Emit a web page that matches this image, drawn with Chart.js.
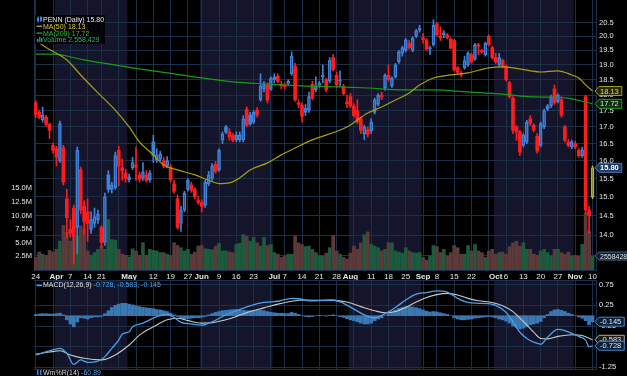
<!DOCTYPE html>
<html>
<head>
<meta charset="utf-8">
<script src="https://cdn.jsdelivr.net/npm/chart.js@4.4.1/dist/chart.umd.min.js"></script>
<style>
html,body{margin:0;padding:0;background:#000;}
body{width:627px;height:376px;position:relative;overflow:hidden;}
canvas{position:absolute;left:0;display:block;}
#main{top:0;}
#macd{top:278px;}
</style>
</head>
<body>
<canvas id="main" width="627" height="282"></canvas>
<canvas id="macd" width="627" height="98"></canvas>
<script>
// ---------- categories ----------
const firstDay = '2014-03-24', lastDay = '2014-11-10';
const holidays = ['2014-04-18','2014-05-26','2014-07-04','2014-09-01'];
const tickDates = ['2014-03-24','2014-04-01','2014-04-07','2014-04-14','2014-04-21','2014-05-01','2014-05-12','2014-05-19','2014-05-27','2014-06-02','2014-06-09','2014-06-16','2014-06-23','2014-07-01','2014-07-07','2014-07-14','2014-07-21','2014-07-28','2014-08-01','2014-08-11','2014-08-18','2014-08-25','2014-09-02','2014-09-08','2014-09-15','2014-09-22','2014-10-01','2014-10-06','2014-10-13','2014-10-20','2014-10-27','2014-11-03','2014-11-10'];
const tickLabels = ['24','Apr','7','14','21','May','12','19','27','Jun','9','16','23','Jul','7','14','21','28','Aug','11','18','25','Sep','8','15','22','Oct','6','13','20','27','Nov','10'];
const monthNames = ['Apr','May','Jun','Jul','Aug','Sep','Oct','Nov'];
const gridDates = ['2014-03-24','2014-03-31','2014-04-07','2014-04-14','2014-04-21','2014-04-28','2014-05-05','2014-05-12','2014-05-19','2014-05-27','2014-06-02','2014-06-09','2014-06-16','2014-06-23','2014-06-30','2014-07-07','2014-07-14','2014-07-21','2014-07-28','2014-08-04','2014-08-11','2014-08-18','2014-08-25','2014-09-02','2014-09-08','2014-09-15','2014-09-22','2014-09-29','2014-10-06','2014-10-13','2014-10-20','2014-10-27','2014-11-03','2014-11-10'];
const shadedMonths = ['2014-04','2014-06','2014-08','2014-10'];
const priceTicks = [13.5,14.0,14.5,15.0,15.5,16.0,16.5,17.0,17.5,18.0,18.5,19.0,19.5,20.0,20.5];
const volumeTicks = [2.5,5.0,7.5,10.0,12.5,15.0];
const macdTicks = [0.75,0.5,0.25,0,-0.25,-0.5,-0.75,-1.0,-1.25];

// ---------- series ----------
const prevClose = 17.9;
const open = [
17.75,17.45,17.22,17.30,17.08,16.45,16.35,16.00,16.38,14.95,
14.15,14.70,14.20,15.75,14.75,14.60,14.15,14.30,14.40,14.20,
13.82,15.60,15.20,15.25,16.30,15.80,15.65,15.47,15.80,15.88,
15.60,15.50,15.60,15.46,16.55,16.02,16.05,16.00,15.85,15.83,
15.35,14.95,14.30,14.65,15.20,15.32,15.20,14.90,14.85,14.78,
15.35,15.50,15.90,15.75,16.60,17.00,16.85,16.75,16.60,16.62,
16.60,17.55,17.37,17.15,17.52,17.85,18.20,18.32,18.20,18.50,
18.62,18.35,18.33,18.38,18.70,18.95,17.75,17.68,17.45,17.52,
18.35,18.17,18.32,18.60,18.50,18.45,19.25,18.65,18.45,18.27,
17.78,17.95,17.65,17.50,17.25,16.78,16.92,16.88,17.45,17.70,
18.00,18.22,18.65,18.30,18.60,19.10,19.40,19.50,19.75,19.50,
20.00,20.22,19.95,19.87,19.55,19.70,20.45,20.00,20.05,20.05,
19.90,19.85,18.90,18.65,18.90,19.00,19.35,19.20,19.70,19.50,
19.35,20.00,19.60,19.25,19.00,19.15,18.95,18.40,17.90,17.00,
16.85,16.45,16.55,17.25,17.05,16.72,16.45,17.00,17.65,17.65,
18.20,17.80,17.85,17.00,16.55,16.40,16.50,16.30,16.15,17.95,
14.65,15.00];
const high = [
17.82,17.52,17.62,17.36,17.12,16.52,16.42,17.18,16.45,15.20,
14.40,14.78,16.40,15.82,14.90,14.95,14.60,14.70,14.65,14.25,
15.10,15.72,15.40,16.25,16.42,16.05,15.75,15.62,16.10,16.40,
15.68,15.95,15.72,15.72,16.75,16.35,16.28,16.10,16.12,15.90,
15.45,15.05,14.75,15.15,15.50,15.40,15.25,15.00,14.92,15.45,
15.70,15.92,15.98,16.35,16.85,17.05,16.95,16.80,16.85,16.85,
17.35,17.62,17.45,17.50,17.60,18.70,18.45,18.40,18.60,18.70,
18.70,18.45,18.40,18.50,19.45,19.05,17.85,17.75,17.70,18.10,
18.45,18.60,18.45,19.00,18.55,19.25,19.35,18.75,18.80,18.35,
18.00,18.05,17.72,17.85,17.30,17.05,17.00,17.25,17.90,18.05,
18.10,18.70,19.00,18.60,19.05,19.50,19.65,19.92,19.85,19.98,
20.25,20.40,20.10,19.92,19.65,20.60,20.50,20.35,20.20,20.10,
19.95,19.90,18.95,18.80,19.30,19.45,19.40,19.75,19.75,19.55,
19.80,20.05,19.65,19.40,19.40,19.20,19.00,18.45,17.95,17.05,
16.90,16.80,17.20,17.35,17.10,16.80,17.15,17.55,17.70,18.00,
18.33,18.05,17.95,17.05,16.62,16.60,16.58,16.35,16.40,18.00,
14.75,15.85];
const low = [
17.28,17.25,17.15,17.02,16.65,16.22,15.85,15.95,15.32,13.95,
13.95,13.30,13.55,14.55,14.02,13.85,14.05,14.20,14.30,13.70,
13.75,15.12,15.10,15.20,15.30,15.45,15.40,15.40,15.75,15.45,
15.40,15.45,15.40,15.40,15.95,15.95,16.00,15.80,15.80,15.40,
15.10,14.15,14.10,14.60,15.15,15.12,14.95,14.80,14.60,14.72,
15.30,15.45,15.65,15.70,16.50,16.80,16.60,16.55,16.55,16.55,
16.55,17.00,17.05,17.10,17.30,17.80,18.10,17.75,18.15,18.40,
18.40,18.20,18.20,18.30,18.65,17.80,17.60,17.15,17.35,17.45,
17.85,18.10,18.25,18.40,18.10,18.40,18.80,18.25,18.30,18.00,
17.60,17.60,17.30,17.10,16.80,16.62,16.70,16.80,17.40,17.65,
17.85,18.15,18.45,18.25,18.55,19.05,19.30,19.45,19.55,19.45,
19.95,20.15,19.75,19.50,19.35,19.65,20.00,19.85,19.95,19.90,
19.55,18.80,18.70,18.60,18.85,18.95,19.05,19.15,19.35,19.40,
19.30,19.65,19.20,19.05,18.95,18.90,18.45,17.90,16.80,16.60,
16.15,16.40,16.50,17.05,16.85,16.22,16.40,16.95,17.50,17.60,
17.70,17.75,17.30,16.55,16.40,16.35,16.35,16.10,16.10,14.55,
14.05,14.95];
const close = [
17.38,17.30,17.36,17.08,16.90,16.30,16.10,17.10,15.40,14.45,
14.05,13.98,16.30,14.65,14.35,14.30,14.40,14.48,14.55,13.82,
15.00,15.20,15.32,16.15,15.85,15.72,15.50,15.55,15.95,15.82,
15.48,15.68,15.45,15.66,16.15,16.17,16.20,15.85,16.00,15.46,
15.15,14.20,14.65,15.10,15.45,15.18,15.00,14.85,14.75,15.40,
15.60,15.85,15.70,16.30,16.78,16.85,16.70,16.60,16.75,16.76,
17.25,17.05,17.10,17.45,17.37,18.30,18.35,17.84,18.55,18.60,
18.45,18.30,18.28,18.45,19.30,17.85,17.70,17.33,17.58,17.95,
17.90,18.30,18.38,18.65,18.17,19.15,18.85,18.33,18.50,18.05,
17.72,17.65,17.35,17.15,16.90,17.00,16.78,17.15,17.85,18.00,
17.95,18.65,18.50,18.55,19.00,19.45,19.60,19.87,19.60,19.93,
20.20,20.30,19.88,19.55,19.60,20.40,20.05,19.95,20.12,19.95,
19.58,18.83,18.75,18.72,19.15,19.40,19.10,19.70,19.65,19.45,
19.75,19.70,19.25,19.10,19.25,18.95,18.50,17.95,16.90,16.85,
16.25,16.75,17.15,17.12,16.90,16.28,17.10,17.50,17.55,17.95,
17.75,18.00,17.37,16.60,16.45,16.55,16.40,16.15,16.32,14.65,
14.50,15.80];
// volume, millions of shares
const volume = [
2.3,3.3,2.9,2.7,3.6,3.3,3.8,5.3,8.2,6.9,
5.3,6.2,6.2,8.1,7.5,3.5,2.7,3.2,3.8,4.4,
3.8,9.3,5.6,5.5,3.8,2.9,2.7,2.4,3.9,3.5,
2.7,5.0,2.7,3.8,3.6,3.5,3.2,3.2,2.9,2.7,
5.0,4.5,4.1,3.5,3.8,2.9,3.3,4.4,4.5,3.9,
3.8,3.7,4.4,4.9,3.5,3.5,3.3,3.2,4.7,4.9,
6.5,6.2,5.3,6.0,5.0,4.4,6.0,4.5,4.7,3.2,
2.9,2.3,2.6,2.9,2.9,6.2,5.0,4.7,4.3,4.4,
3.8,3.2,2.6,2.6,3.1,4.1,6.3,3.5,2.9,2.3,
2.0,3.1,4.4,3.8,5.0,6.5,7.0,4.7,4.4,4.1,
3.5,3.8,5.0,5.0,3.5,3.3,3.1,4.1,3.5,3.2,
3.1,3.2,2.3,1.8,2.6,4.5,4.3,3.2,3.8,2.6,
3.2,4.5,4.1,2.9,2.9,4.5,3.5,4.7,3.5,3.2,
2.3,3.5,3.8,2.9,3.2,3.3,2.9,4.3,5.0,5.3,
4.4,5.0,3.8,3.8,2.9,2.7,3.5,3.8,3.2,2.6,
3.8,3.8,3.2,2.9,3.3,2.6,2.7,2.5,4.7,10.5,
7.2,2.558429];
const ma50Day = [0,3,9,13,18,23,27,30,34,37,41,46,50,53,56,59,62,67,71,75,80,90,96,100,104,108,111,115,120,125,131,135,138,143,146,151,155,157,159,161];
const ma50 = [19.85,19.6,19.17,18.66,18.07,17.52,17.0,16.55,16.17,15.88,15.74,15.6,15.45,15.36,15.38,15.52,15.74,15.94,16.17,16.37,16.61,17.0,17.43,17.62,17.84,18.07,18.33,18.56,18.66,18.73,18.9,18.93,18.9,18.8,18.76,18.8,18.66,18.56,18.33,18.13];
const ma200Day = [0,5,14,28,38,48,57,67,77,86,96,106,115,125,135,144,151,155,161];
const ma200 = [19.37,19.37,19.17,18.9,18.73,18.56,18.43,18.36,18.3,18.27,18.23,18.17,18.17,18.1,18.03,17.94,17.93,17.88,17.72];
const macdDay = [0,4,7,9,11,13,15,18,20,22,24,25,27,28,31,34,36,38,40,42,45,48,51,54,58,62,66,70,74,76,79,83,86,89,92,95,98,101,104,107,110,113,116,119,122,125,128,131,133,136,138,140,142,144,146,148,151,153,155,157,159,160,161];
const macd = [-0.95,-0.85,-0.79,-0.91,-1.18,-1.07,-1.13,-1.10,-0.99,-0.79,-0.59,-0.45,-0.39,-0.27,-0.18,-0.06,0.0,0.03,-0.04,-0.16,-0.2,-0.23,-0.15,-0.02,0.12,0.24,0.32,0.35,0.42,0.41,0.36,0.37,0.38,0.3,0.16,0.02,-0.05,0.05,0.2,0.38,0.52,0.56,0.6,0.57,0.42,0.32,0.3,0.29,0.25,0.08,-0.15,-0.4,-0.55,-0.64,-0.69,-0.52,-0.33,-0.36,-0.43,-0.5,-0.59,-0.75,-0.728];
const signalDay = [0,4,7,10,14,19,23,27,30,34,38,41,44,48,51,55,58,62,66,70,74,78,82,86,90,94,98,101,104,107,110,113,116,119,122,125,128,132,135,138,140,142,144,146,148,151,155,158,161];
const signal = [-0.93,-0.88,-0.85,-0.95,-1.03,-1.07,-0.95,-0.71,-0.47,-0.27,-0.1,-0.06,-0.12,-0.18,-0.17,-0.1,-0.02,0.1,0.19,0.28,0.35,0.38,0.37,0.37,0.33,0.22,0.12,0.07,0.1,0.2,0.33,0.44,0.51,0.54,0.5,0.42,0.36,0.32,0.24,0.1,-0.06,-0.22,-0.4,-0.55,-0.56,-0.5,-0.46,-0.48,-0.583];
const histogram = [
0.03,0.04,0.05,0.05,0.04,0.04,0.05,0.06,0.02,
-0.10,-0.20,-0.27,-0.15,
-0.05,-0.06,-0.08,-0.05,-0.03,-0.03,-0.02,
0.05,0.12,0.20,0.25,0.28,
0.30,0.30,0.28,0.26,0.24,0.22,
0.20,0.19,0.18,0.17,0.15,0.14,0.12,0.10,
0.06,0.02,-0.02,
-0.06,-0.08,-0.07,-0.06,-0.05,-0.05,-0.04,-0.02,
0.02,0.05,0.08,0.10,0.12,0.13,0.14,0.15,0.15,0.14,0.13,0.12,
0.12,0.12,0.13,0.14,0.12,0.10,0.08,0.07,0.06,0.06,0.05,0.05,0.08,0.06,
0.03,0.00,-0.02,-0.03,-0.02,0.00,0.01,0.00,-0.01,0.01,0.02,0.00,-0.02,
-0.04,-0.07,-0.10,-0.12,-0.15,-0.18,-0.20,-0.20,-0.18,-0.12,-0.08,-0.05,
0.00,0.05,0.10,0.14,0.18,0.20,0.22,0.22,0.21,0.19,0.17,0.14,
0.11,0.09,0.10,0.09,0.07,0.05,0.03,0.00,-0.05,-0.08,-0.10,-0.10,
-0.09,-0.08,-0.06,-0.05,-0.04,-0.03,-0.02,-0.03,
-0.05,-0.08,-0.10,-0.13,-0.18,-0.25,-0.28,-0.32,-0.30,-0.27,-0.22,-0.20,-0.18,-0.14,
-0.05,0.03,0.10,0.14,0.15,0.13,0.10,0.06,0.03,0.00,-0.03,-0.06,
-0.12,-0.22,-0.145];
const legendTexts = {
  price: 'PENN (Daily) 15.80', ma50: 'MA(50) 18.13', ma200: 'MA(200) 17.72',
  volume: 'Volume 2,558,429', volumeTag: '2558428',
  macdName: 'MACD(12,26,9)', macdVals: ' -0.728, -0.583, -0.145',
  willName: 'Wm%R(14)', willVal: ' -60.89'
};

// ---------- helpers ----------
const dates = (function(){
  const out = []; const d = new Date(firstDay + 'T00:00:00Z'); const end = new Date(lastDay + 'T00:00:00Z');
  while (d <= end) { const w = d.getUTCDay(); const s = d.toISOString().slice(0,10);
    if (w !== 0 && w !== 6 && !holidays.includes(s)) out.push(s);
    d.setUTCDate(d.getUTCDate() + 1); }
  return out;
})();
const N = dates.length;
const dIdx = s => dates.indexOf(s);
const tickIdx = tickDates.map(dIdx);
const gridIdx = new Set(gridDates.map(dIdx));
const labelMap = {}; tickIdx.forEach((v,k)=> labelMap[v] = tickLabels[k]);
const monthIdx = new Set(tickIdx.filter((v,k)=> monthNames.includes(tickLabels[k])));
const allTicks = Array.from(new Set([...tickIdx, ...gridIdx])).sort((a,b)=>a-b);
const bands = shadedMonths.map(m => {
  const s = dates.findIndex(d => d.startsWith(m)); let e = N;
  for (let i = s; i < N; i++) if (!dates[i].startsWith(m)) { e = i; break; }
  return [s - 0.5, e - 0.5];
});

const FONT = '"Liberation Sans", Arial, sans-serif';
const GRID = '#1c2f49';
const BAND = '#14142b';
const RED = '#ff1c1c', BLUE = '#3f82da', LASTC = '#b8b82a';
const VUP = '#1d5b3f', VDN = '#5d3a3a';
const MA50C = '#a89e14', MA200C = '#169c16';
const XMIN = -0.5, XMAX = 162;

const up = i => close[i] >= (i ? close[i-1] : prevClose);
const cColor = i => i === N - 1 ? LASTC : (up(i) ? BLUE : RED);
const filled = i => close[i] < open[i];

const bandPlugin = {
  id: 'bands',
  beforeDraw(chart) {
    const {ctx, chartArea: a, scales: {x}} = chart;
    ctx.save(); ctx.fillStyle = BAND;
    for (const [s, e] of bands) {
      const x0 = Math.max(a.left, x.getPixelForValue(s));
      const x1 = Math.min(a.right, x.getPixelForValue(e));
      ctx.fillRect(x0, a.top, x1 - x0, a.bottom - a.top);
    }
    ctx.restore();
  }
};

function tag(ctx, x, y, text, o) {
  ctx.font = o.font;
  const w = ctx.measureText(text).width + 8, h = o.h || 9;
  ctx.beginPath();
  ctx.moveTo(x, y); ctx.lineTo(x + 4, y - h/2); ctx.lineTo(x + w, y - h/2);
  ctx.lineTo(x + w, y + h/2); ctx.lineTo(x + 4, y + h/2); ctx.closePath();
  ctx.fillStyle = o.fill; ctx.fill();
  ctx.strokeStyle = o.border; ctx.lineWidth = 1; ctx.stroke();
  ctx.fillStyle = o.color; ctx.textBaseline = 'middle'; ctx.textAlign = 'left';
  ctx.fillText(text, x + 5, y + 0.5);
}

const mainOverlay = {
  id: 'mainOverlay',
  afterDraw(chart) {
    const ctx = chart.ctx, a = chart.chartArea, y = chart.scales.y, yv = chart.scales.yv;
    ctx.save();
    // legend
    ctx.fillStyle = 'rgba(0,0,0,0.82)';
    ctx.fillRect(35, 15, 70, 29);
    ctx.font = '7px ' + FONT; ctx.textBaseline = 'middle'; ctx.textAlign = 'left';
    const rows = [
      [legendTexts.price, '#e6e6e6'],
      [legendTexts.ma50, '#d8ca22'],
      [legendTexts.ma200, '#2cc22c'],
      [legendTexts.volume, '#2db46e']
    ];
    rows.forEach((r, k) => {
      const yy = 19.5 + k * 6.8;
      if (k === 0) {
        ctx.fillStyle = BLUE; ctx.fillRect(37, yy - 2, 2, 4); ctx.fillRect(40, yy - 3, 2, 5);
        ctx.fillRect(38, yy - 3, 0.8, 6);
      } else if (k < 3) {
        ctx.strokeStyle = k === 1 ? MA50C : MA200C; ctx.lineWidth = 1.5;
        ctx.beginPath(); ctx.moveTo(36.5, yy); ctx.lineTo(42, yy); ctx.stroke();
      } else {
        ctx.fillStyle = '#2a8a5a'; ctx.fillRect(37, yy - 1, 1.5, 3); ctx.fillRect(39, yy - 3, 1.5, 5); ctx.fillRect(41, yy - 2, 1.5, 4);
      }
      ctx.fillStyle = r[1]; ctx.fillText(r[0], 43, yy + 0.5);
    });
    // right value tags
    const tx = a.right - 1;
    tag(ctx, tx, yv.getPixelForValue(volume[N-1]), legendTexts.volumeTag, {font: '7px ' + FONT, fill: '#0d1b2c', border: '#46668e', color: '#e6e6e6', h: 8});
    tag(ctx, tx, y.getPixelForValue(ma50[ma50.length-1]), ma50[ma50.length-1].toFixed(2), {font: '7.5px ' + FONT, fill: '#26260a', border: '#a8a020', color: '#e8dc60'});
    tag(ctx, tx, y.getPixelForValue(ma200[ma200.length-1]), ma200[ma200.length-1].toFixed(2), {font: '7.5px ' + FONT, fill: '#0b2a0b', border: '#22a022', color: '#d0f0d0'});
    tag(ctx, tx, y.getPixelForValue(close[N-1]), close[N-1].toFixed(2), {font: 'bold 7.5px ' + FONT, fill: '#1d3a62', border: '#4a7cba', color: '#ffffff'});
    ctx.restore();
  }
};

const macdOverlay = {
  id: 'macdOverlay',
  afterDraw(chart) {
    const ctx = chart.ctx, a = chart.chartArea, y = chart.scales.y;
    ctx.save();
    ctx.strokeStyle = GRID; ctx.lineWidth = 1;
    ctx.beginPath(); ctx.moveTo(a.left, a.top + 0.5); ctx.lineTo(a.right, a.top + 0.5); ctx.stroke();
    ctx.font = '7px ' + FONT; ctx.textBaseline = 'middle'; ctx.textAlign = 'left';
    // MACD legend
    ctx.strokeStyle = '#4aa3ea'; ctx.lineWidth = 1.5;
    ctx.beginPath(); ctx.moveTo(36.5, 7.5); ctx.lineTo(42, 7.5); ctx.stroke();
    ctx.fillStyle = '#e0e0e0'; ctx.fillText(legendTexts.macdName, 43, 7.5);
    const w1 = ctx.measureText(legendTexts.macdName).width;
    ctx.fillStyle = '#4aa3ea'; ctx.fillText(legendTexts.macdVals, 43 + w1, 7.5);
    // Williams %R legend (next panel, cut off)
    ctx.fillStyle = '#3f82da'; ctx.fillRect(37, 92, 1.5, 5); ctx.fillRect(40, 92, 1.5, 5);
    ctx.fillStyle = '#d8d8d8'; ctx.fillText(legendTexts.willName, 43, 95.5);
    const w2 = ctx.measureText(legendTexts.willName).width;
    ctx.fillStyle = '#4aa3ea'; ctx.fillText(legendTexts.willVal, 43 + w2, 95.5);
    // tags
    const tx = a.right - 1;
    tag(ctx, tx, y.getPixelForValue(histogram[N-1]), histogram[N-1].toFixed(3), {font: '7.5px ' + FONT, fill: '#0c2038', border: '#3f86c8', color: '#d6e8ff'});
    tag(ctx, tx, y.getPixelForValue(signal[signal.length-1]), signal[signal.length-1].toFixed(3), {font: '7.5px ' + FONT, fill: '#1e1e1e', border: '#a8a8a8', color: '#e6e6e6'});
    tag(ctx, tx, y.getPixelForValue(macd[macd.length-1]), macd[macd.length-1].toFixed(3), {font: '7.5px ' + FONT, fill: '#0c2038', border: '#3f86c8', color: '#d6e8ff'});
    ctx.restore();
  }
};

function noPad(s) { s.paddingTop = 0; s.paddingBottom = 0; s.paddingLeft = 0; s.paddingRight = 0; }
const xScaleBase = (showLabels, h) => ({
  type: 'linear', min: XMIN, max: XMAX, bounds: 'data', offset: false,
  afterBuildTicks: s => { s.ticks = allTicks.map(v => ({value: v})); },
  afterFit: s => { s.height = h; noPad(s); },
  grid: { offset: false, drawTicks: false, color: c => (c.tick && gridIdx.has(c.tick.value)) ? GRID : 'rgba(0,0,0,0)', lineWidth: 1 },
  border: { display: true, color: GRID },
  ticks: {
    display: showLabels, autoSkip: false, maxRotation: 0, minRotation: 0, padding: 2, color: '#e4e4e4',
    font: c => ({ family: FONT, size: 8, weight: (c.tick && monthIdx.has(c.tick.value)) ? 'bold' : 'normal' }),
    callback: v => labelMap[v] !== undefined ? labelMap[v] : ''
  }
});

Chart.defaults.font.family = FONT;
const idx = dates.map((d, i) => i);

new Chart(document.getElementById('main'), {
  type: 'bar',
  data: {
    datasets: [
      { label: 'Volume', yAxisID: 'yv', order: 10, barThickness: 3,
        data: idx.map(i => ({x: i, y: volume[i]})),
        backgroundColor: idx.map(i => up(i) ? VUP : VDN) },
      { label: 'wickLow', yAxisID: 'y', order: 4, barThickness: 1,
        data: idx.map(i => ({x: i, y: [low[i], Math.min(open[i], close[i])]})),
        backgroundColor: idx.map(cColor) },
      { label: 'wickHigh', yAxisID: 'y', order: 4, barThickness: 1,
        data: idx.map(i => ({x: i, y: [Math.max(open[i], close[i]), high[i]]})),
        backgroundColor: idx.map(cColor) },
      { label: 'PENN', yAxisID: 'y', order: 3, barThickness: 3, minBarLength: 1, borderSkipped: false,
        data: idx.map(i => ({x: i, y: [Math.min(open[i], close[i]), Math.max(open[i], close[i])]})),
        backgroundColor: idx.map(i => filled(i) ? cColor(i) : (i === N-1 ? 'rgba(140,140,30,0.35)' : 'rgba(0,0,0,0)')),
        borderColor: idx.map(cColor),
        borderWidth: idx.map(i => filled(i) ? 0 : 1) },
      { type: 'line', label: 'MA(200)', yAxisID: 'y', order: 2,
        data: ma200Day.map((d, k) => ({x: d, y: ma200[k]})),
        borderColor: MA200C, borderWidth: 1.2, pointRadius: 0, cubicInterpolationMode: 'monotone' },
      { type: 'line', label: 'MA(50)', yAxisID: 'y', order: 1,
        data: ma50Day.map((d, k) => ({x: d, y: ma50[k]})),
        borderColor: MA50C, borderWidth: 1.2, pointRadius: 0, cubicInterpolationMode: 'monotone' }
    ]
  },
  options: {
    responsive: false, animation: false, devicePixelRatio: 1,
    layout: { padding: 0 },
    datasets: { bar: { grouped: false } },
    plugins: { legend: { display: false }, tooltip: { enabled: false } },
    scales: {
      x: xScaleBase(true, 12),
      y: {
        type: 'logarithmic', position: 'right', min: 13.156, max: 21.343, bounds: 'data',
        afterBuildTicks: s => { s.ticks = priceTicks.map(v => ({value: v})); },
        afterFit: s => { s.width = 31; noPad(s); },
        grid: { color: GRID, drawTicks: false },
        border: { display: true, color: GRID },
        ticks: { padding: 3, color: '#e4e4e4', font: { family: FONT, size: 7.5 }, callback: v => Number(v).toFixed(1) }
      },
      yv: {
        type: 'linear', position: 'left', min: 0, max: 49.63, bounds: 'data',
        afterBuildTicks: s => { s.ticks = volumeTicks.map(v => ({value: v})); },
        afterFit: s => { s.width = 34; noPad(s); },
        grid: { display: false, drawTicks: false },
        border: { display: true, color: GRID },
        ticks: { padding: 2, color: '#e4e4e4', font: { family: FONT, size: 7.5 }, callback: v => Number(v).toFixed(1) + 'M' }
      }
    }
  },
  plugins: [bandPlugin, mainOverlay]
});

new Chart(document.getElementById('macd'), {
  type: 'bar',
  data: {
    datasets: [
      { label: 'Histogram', order: 3, barThickness: 3,
        data: idx.map(i => ({x: i, y: histogram[i]})),
        backgroundColor: '#3a78b2' },
      { type: 'line', label: 'Signal', order: 2,
        data: signalDay.map((d, k) => ({x: d, y: signal[k]})),
        borderColor: '#c9c9c9', borderWidth: 1.1, pointRadius: 0, cubicInterpolationMode: 'monotone' },
      { type: 'line', label: 'MACD', order: 1,
        data: macdDay.map((d, k) => ({x: d, y: macd[k]})),
        borderColor: '#4aa3ea', borderWidth: 1.3, pointRadius: 0, cubicInterpolationMode: 'monotone' }
    ]
  },
  options: {
    responsive: false, animation: false, devicePixelRatio: 1,
    layout: { padding: { left: 34, top: 2, bottom: 7, right: 0 } },
    datasets: { bar: { grouped: false } },
    plugins: { legend: { display: false }, tooltip: { enabled: false } },
    scales: {
      x: xScaleBase(false, 0),
      y: {
        type: 'linear', position: 'right', min: -1.29, max: 0.864, bounds: 'data',
        afterBuildTicks: s => { s.ticks = macdTicks.map(v => ({value: v})); },
        afterFit: s => { s.width = 31; noPad(s); },
        grid: { color: GRID, drawTicks: false },
        border: { display: true, color: GRID },
        ticks: { padding: 3, color: '#e4e4e4', font: { family: FONT, size: 7.5 }, callback: v => Number(v).toFixed(2) }
      }
    }
  },
  plugins: [bandPlugin, macdOverlay]
});
</script>
</body>
</html>
